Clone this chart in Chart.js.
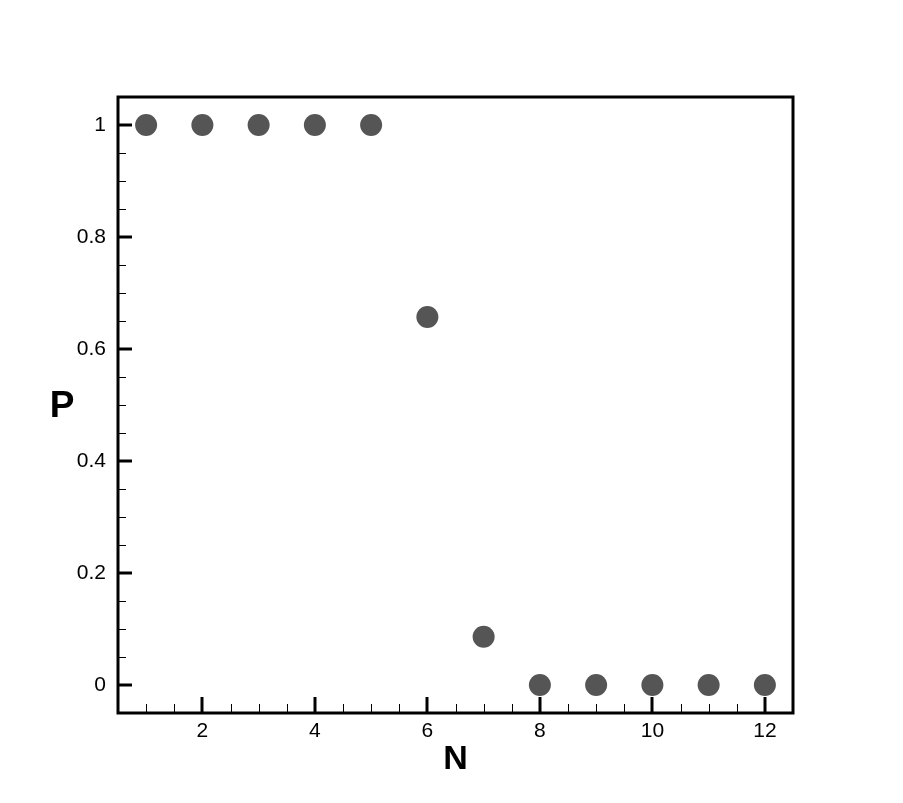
<!DOCTYPE html>
<html>
<head>
<meta charset="utf-8">
<script src="https://cdn.jsdelivr.net/npm/chart.js@4/dist/chart.umd.min.js"></script>
<style>
  html, body { margin: 0; padding: 0; background: #fff; }
  #wrap { width: 903px; height: 803px; }
</style>
</head>
<body>
<div id="wrap"><canvas id="chart"></canvas></div>
<script>
const nValues = [1, 2, 3, 4, 5, 6, 7, 8, 9, 10, 11, 12];
const pValues = [1, 1, 1, 1, 1, 0.657, 0.086, 0, 0, 0, 0, 0];

const xTicks = [2, 4, 6, 8, 10, 12];
const xTickLabels = ['2', '4', '6', '8', '10', '12'];
const yTicks = [0, 0.2, 0.4, 0.6, 0.8, 1];
const yTickLabels = ['0', '0.2', '0.4', '0.6', '0.8', '1'];

const xMinorStep = 0.5;
const yMinorStep = 0.05;

const FONT = 'Liberation Sans, Arial, Helvetica, sans-serif';

// inward ticks + frame, drawn through the scales
const framePlugin = {
  id: 'frame',
  beforeDatasetsDraw(chart) {
    const { ctx, chartArea: a, scales: { x, y } } = chart;
    ctx.save();
    ctx.strokeStyle = '#000';
    // minor ticks
    ctx.lineWidth = 1;
    for (let v = Math.ceil(x.min / xMinorStep) * xMinorStep; v <= x.max; v += xMinorStep) {
      const px = Math.round(x.getPixelForValue(v)) + 0.5;
      ctx.beginPath(); ctx.moveTo(px, a.bottom); ctx.lineTo(px, a.bottom - 9); ctx.stroke();
    }
    for (let v = Math.ceil(y.min / yMinorStep) * yMinorStep; v <= y.max + 1e-9; v += yMinorStep) {
      const py = Math.round(y.getPixelForValue(v)) + 0.5;
      ctx.beginPath(); ctx.moveTo(a.left, py); ctx.lineTo(a.left + 8, py); ctx.stroke();
    }
    // major ticks
    ctx.lineWidth = 3;
    xTicks.forEach(v => {
      const px = Math.round(x.getPixelForValue(v));
      ctx.beginPath(); ctx.moveTo(px, a.bottom); ctx.lineTo(px, a.bottom - 16); ctx.stroke();
    });
    yTicks.forEach(v => {
      const py = Math.round(y.getPixelForValue(v));
      ctx.beginPath(); ctx.moveTo(a.left, py); ctx.lineTo(a.left + 14, py); ctx.stroke();
    });
    ctx.restore();
  },
  afterDatasetsDraw(chart) {
    const { ctx, chartArea: a } = chart;
    ctx.save();
    ctx.strokeStyle = '#000';
    ctx.lineWidth = 3;
    ctx.strokeRect(a.left, a.top, a.right - a.left, a.bottom - a.top);
    // upright y title
    ctx.fillStyle = '#000';
    ctx.font = 'bold 37px ' + FONT;
    ctx.textAlign = 'center';
    ctx.textBaseline = 'middle';
    ctx.fillText('P', 62, (a.top + a.bottom) / 2 + 2);
    ctx.restore();
  }
};

new Chart(document.getElementById('chart'), {
  type: 'scatter',
  data: {
    datasets: [{
      data: nValues.map((n, i) => ({ x: n, y: pValues[i] })),
      pointRadius: 11,
      pointHoverRadius: 11,
      pointBackgroundColor: '#555555',
      pointBorderWidth: 0,
      showLine: false
    }]
  },
  options: {
    responsive: true,
    maintainAspectRatio: false,
    animation: false,
    events: [],
    layout: { padding: { top: 97, right: 110, left: 0, bottom: 0 } },
    plugins: { legend: { display: false }, tooltip: { enabled: false } },
    scales: {
      x: {
        type: 'linear',
        min: 0.5, max: 12.5,
        grid: { display: false, drawTicks: false },
        border: { display: false },
        afterFit: s => { s.height = 90; },
        afterBuildTicks: s => { s.ticks = xTicks.map(v => ({ value: v })); },
        ticks: {
          autoSkip: false, maxRotation: 0, padding: 6,
          color: '#000', font: { family: FONT, size: 21 },
          callback: (v) => xTickLabels[xTicks.indexOf(v)]
        },
        title: {
          display: true, text: 'N', color: '#000',
          font: { family: FONT, size: 34, weight: 'bold' },
          padding: { top: 0, bottom: 23 }
        }
      },
      y: {
        type: 'linear',
        min: -0.05, max: 1.05,
        grid: { display: false, drawTicks: false },
        border: { display: false },
        afterFit: s => { s.width = 118; },
        afterBuildTicks: s => { s.ticks = yTicks.map(v => ({ value: v })); },
        ticks: {
          autoSkip: false, padding: 12,
          color: '#000', font: { family: FONT, size: 21 },
          callback: (v) => yTickLabels[yTicks.indexOf(v)]
        }
      }
    }
  },
  plugins: [framePlugin]
});
</script>
</body>
</html>
